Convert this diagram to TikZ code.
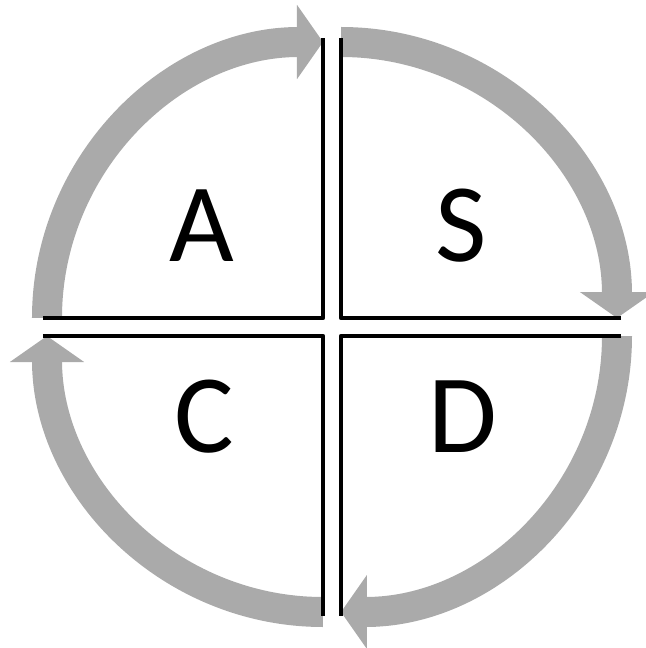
\documentclass[tikz,border=0pt]{standalone}
\usepackage{fontspec}
\setmainfont{Carlito}
\usetikzlibrary{arrows.meta}
\definecolor{arcgray}{RGB}{170,170,170}

\begin{document}
\begin{tikzpicture}[
    cyclearrow/.style={draw=arcgray, line width=0.6cm, -{Triangle[length=0.52cm, width=1.46cm]}},
    quadline/.style={draw=black, line width=0.095cm, line join=round},
    letter/.style={font=\fontsize{63.6}{70}\selectfont, inner sep=0pt}
  ]
    \useasboundingbox (-6.64,-6.42) rectangle (6.26,6.54);
    %%% Gray arrows round the four quadrants
    \draw[cyclearrow] (-5.70,0.18) arc (180:90:5.52cm);
    \draw[cyclearrow] (0.18,5.70) arc (90:0:5.52cm);
    \draw[cyclearrow] (5.70,-0.18) arc (0:-90:5.52cm);
    \draw[cyclearrow] (-0.18,-5.70) arc (-90:-180:5.52cm);
    %
    %%% Quadrant borders
    \draw[quadline] (-5.78,0.18) -- (-0.18,0.18) -- (-0.18,5.78);
    \draw[quadline] (5.78,0.18) -- (0.18,0.18) -- (0.18,5.78);
    \draw[quadline] (-5.78,-0.18) -- (-0.18,-0.18) -- (-0.18,-5.78);
    \draw[quadline] (5.78,-0.18) -- (0.18,-0.18) -- (0.18,-5.78);
    %
    %%% Letters
    \node[letter] (act) at (-2.60,2.02) {A};
    \node[letter] (sense) at (2.58,2.02) {S};
    \node[letter] (check) at (-2.56,-1.80) {C};
    \node[letter] (decide) at (2.62,-1.80) {D};
\end{tikzpicture}
\end{document}
